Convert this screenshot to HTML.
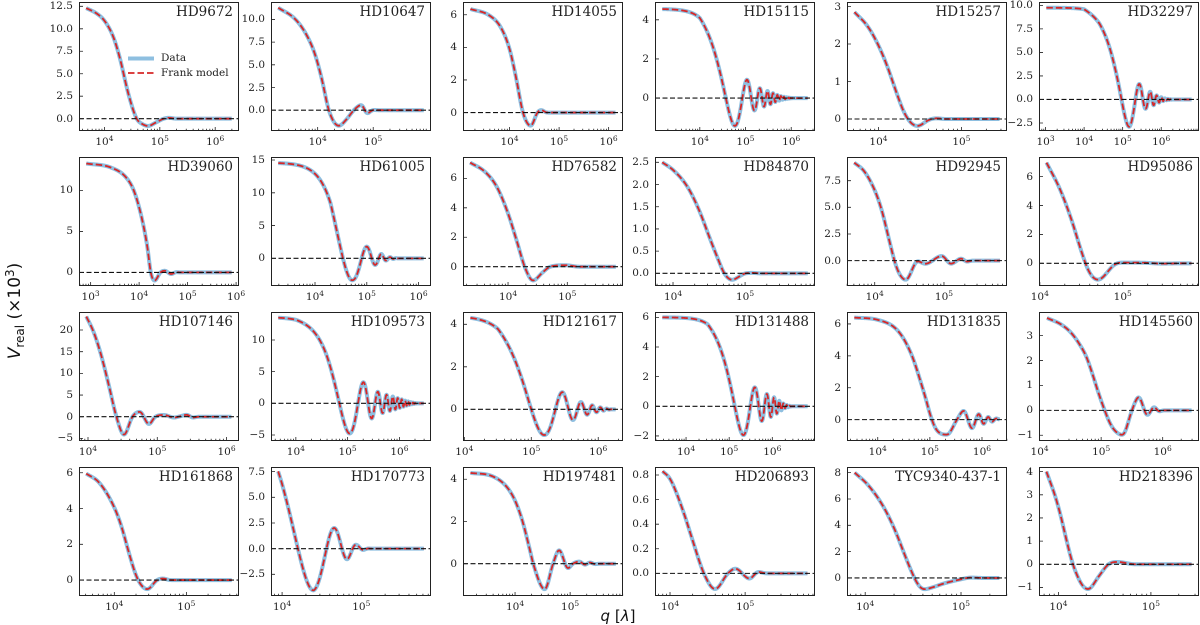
<!DOCTYPE html>
<html>
<head>
<meta charset="utf-8">
<style>
body{margin:0;background:#fff;}
#fig{position:relative;width:1200px;height:625px;overflow:hidden;background:#fff;font-family:"DejaVu Serif","Liberation Serif",serif;color:#222;}
.p{position:absolute;width:160px;height:129px;}
.p svg{position:absolute;left:0;top:0;overflow:visible;}
.box{position:absolute;left:0;top:0;width:160px;height:129px;border:1px solid #222;box-sizing:border-box;}
.tt{position:absolute;right:6px;top:2px;font-size:13.5px;line-height:16px;white-space:nowrap;}
.yl{position:absolute;right:166px;top:calc((var(--y1) - var(--v)) * 129px / (var(--y1) - var(--y0)) - 6px);font-size:10.5px;line-height:12px;white-space:nowrap;}
.xl{position:absolute;top:134px;left:calc((var(--v) - var(--x0)) * 160px / (var(--x1) - var(--x0)));transform:translateX(-50%);font-size:10.5px;line-height:12px;white-space:nowrap;}
.xl sup{font-size:7.5px;position:relative;top:-4.5px;vertical-align:baseline;line-height:0;}
.lg{position:absolute;left:82px;font-size:10.5px;line-height:12px;white-space:nowrap;}
#ylab{position:absolute;left:15px;top:311px;transform:translate(-50%,-50%) rotate(-90deg);font-family:"DejaVu Sans","Liberation Sans",sans-serif;font-size:17px;white-space:nowrap;line-height:20px;color:#111;}
#ylab sub{font-size:12px;position:relative;top:4px;vertical-align:baseline;line-height:0;}
#ylab sup{font-size:12px;position:relative;top:-6px;vertical-align:baseline;line-height:0;}
#xlab{position:absolute;left:618px;top:616px;transform:translate(-50%,-50%);font-family:"DejaVu Sans","Liberation Sans",sans-serif;font-size:15px;white-space:nowrap;line-height:18px;color:#111;}
</style>
</head>
<body>
<div id="fig">

<div class="p" style="left:79px;top:2px;--x0:3.54;--x1:6.43;--y0:-1.37;--y1:12.98"><svg width="160" height="129"></svg><div class="box"></div><div class="tt">HD9672</div><span class="yl" style="--v:0">0.0</span><span class="yl" style="--v:2.5">2.5</span><span class="yl" style="--v:5">5.0</span><span class="yl" style="--v:7.5">7.5</span><span class="yl" style="--v:10">10.0</span><span class="yl" style="--v:12.5">12.5</span><span class="xl" style="--v:4">10<sup>4</sup></span><span class="xl" style="--v:5">10<sup>5</sup></span><span class="xl" style="--v:6">10<sup>6</sup></span><div class="lg" style="top:50px">Data</div><div class="lg" style="top:65px">Frank model</div></div>

<div class="p" style="left:271px;top:2px;--x0:3.16;--x1:6.04;--y0:-2.29;--y1:11.92"><svg width="160" height="129"></svg><div class="box"></div><div class="tt">HD10647</div><span class="yl" style="--v:0">0.0</span><span class="yl" style="--v:2.5">2.5</span><span class="yl" style="--v:5">5.0</span><span class="yl" style="--v:7.5">7.5</span><span class="yl" style="--v:10">10.0</span><span class="xl" style="--v:4">10<sup>4</sup></span><span class="xl" style="--v:5">10<sup>5</sup></span></div>

<div class="p" style="left:463px;top:2px;--x0:3.06;--x1:6.29;--y0:-1.13;--y1:6.78"><svg width="160" height="129"></svg><div class="box"></div><div class="tt">HD14055</div><span class="yl" style="--v:0">0</span><span class="yl" style="--v:2">2</span><span class="yl" style="--v:4">4</span><span class="yl" style="--v:6">6</span><span class="xl" style="--v:4">10<sup>4</sup></span><span class="xl" style="--v:5">10<sup>5</sup></span><span class="xl" style="--v:6">10<sup>6</sup></span></div>

<div class="p" style="left:655px;top:2px;--x0:3.02;--x1:6.52;--y0:-1.68;--y1:4.91"><svg width="160" height="129"></svg><div class="box"></div><div class="tt">HD15115</div><span class="yl" style="--v:0">0</span><span class="yl" style="--v:2">2</span><span class="yl" style="--v:4">4</span><span class="xl" style="--v:4">10<sup>4</sup></span><span class="xl" style="--v:5">10<sup>5</sup></span><span class="xl" style="--v:6">10<sup>6</sup></span></div>

<div class="p" style="left:847px;top:2px;--x0:3.62;--x1:5.55;--y0:-0.32;--y1:3.12"><svg width="160" height="129"></svg><div class="box"></div><div class="tt">HD15257</div><span class="yl" style="--v:0">0</span><span class="yl" style="--v:1">1</span><span class="yl" style="--v:2">2</span><span class="yl" style="--v:3">3</span><span class="xl" style="--v:4">10<sup>4</sup></span><span class="xl" style="--v:5">10<sup>5</sup></span></div>

<div class="p" style="left:1039px;top:2px;--x0:2.83;--x1:6.98;--y0:-3.35;--y1:10.36"><svg width="160" height="129"></svg><div class="box"></div><div class="tt">HD32297</div><span class="yl" style="--v:-2.5">−2.5</span><span class="yl" style="--v:0">0.0</span><span class="yl" style="--v:2.5">2.5</span><span class="yl" style="--v:5">5.0</span><span class="yl" style="--v:7.5">7.5</span><span class="yl" style="--v:10">10.0</span><span class="xl" style="--v:3">10<sup>3</sup></span><span class="xl" style="--v:4">10<sup>4</sup></span><span class="xl" style="--v:5">10<sup>5</sup></span><span class="xl" style="--v:6">10<sup>6</sup></span></div>

<div class="p" style="left:79px;top:157px;--x0:2.76;--x1:6.06;--y0:-1.66;--y1:14.09"><svg width="160" height="129"></svg><div class="box"></div><div class="tt">HD39060</div><span class="yl" style="--v:0">0</span><span class="yl" style="--v:5">5</span><span class="yl" style="--v:10">10</span><span class="xl" style="--v:3">10<sup>3</sup></span><span class="xl" style="--v:4">10<sup>4</sup></span><span class="xl" style="--v:5">10<sup>5</sup></span><span class="xl" style="--v:6">10<sup>6</sup></span></div>

<div class="p" style="left:271px;top:157px;--x0:3.15;--x1:6.24;--y0:-4.22;--y1:15.46"><svg width="160" height="129"></svg><div class="box"></div><div class="tt">HD61005</div><span class="yl" style="--v:0">0</span><span class="yl" style="--v:5">5</span><span class="yl" style="--v:10">10</span><span class="yl" style="--v:15">15</span><span class="xl" style="--v:4">10<sup>4</sup></span><span class="xl" style="--v:5">10<sup>5</sup></span><span class="xl" style="--v:6">10<sup>6</sup></span></div>

<div class="p" style="left:463px;top:157px;--x0:3.24;--x1:5.94;--y0:-1.31;--y1:7.45"><svg width="160" height="129"></svg><div class="box"></div><div class="tt">HD76582</div><span class="yl" style="--v:0">0</span><span class="yl" style="--v:2">2</span><span class="yl" style="--v:4">4</span><span class="yl" style="--v:6">6</span><span class="xl" style="--v:4">10<sup>4</sup></span><span class="xl" style="--v:5">10<sup>5</sup></span></div>

<div class="p" style="left:655px;top:157px;--x0:3.75;--x1:5.97;--y0:-0.285;--y1:2.62"><svg width="160" height="129"></svg><div class="box"></div><div class="tt">HD84870</div><span class="yl" style="--v:0">0.0</span><span class="yl" style="--v:0.5">0.5</span><span class="yl" style="--v:1">1.0</span><span class="yl" style="--v:1.5">1.5</span><span class="yl" style="--v:2">2.0</span><span class="yl" style="--v:2.5">2.5</span><span class="xl" style="--v:4">10<sup>4</sup></span><span class="xl" style="--v:5">10<sup>5</sup></span></div>

<div class="p" style="left:847px;top:157px;--x0:3.60;--x1:5.91;--y0:-2.38;--y1:9.72"><svg width="160" height="129"></svg><div class="box"></div><div class="tt">HD92945</div><span class="yl" style="--v:0">0.0</span><span class="yl" style="--v:2.5">2.5</span><span class="yl" style="--v:5">5.0</span><span class="yl" style="--v:7.5">7.5</span><span class="xl" style="--v:4">10<sup>4</sup></span><span class="xl" style="--v:5">10<sup>5</sup></span></div>

<div class="p" style="left:1039px;top:157px;--x0:3.99;--x1:5.92;--y0:-1.57;--y1:7.36"><svg width="160" height="129"></svg><div class="box"></div><div class="tt">HD95086</div><span class="yl" style="--v:0">0</span><span class="yl" style="--v:2">2</span><span class="yl" style="--v:4">4</span><span class="yl" style="--v:6">6</span><span class="xl" style="--v:4">10<sup>4</sup></span><span class="xl" style="--v:5">10<sup>5</sup></span></div>

<div class="p" style="left:79px;top:312px;--x0:3.87;--x1:6.18;--y0:-5.6;--y1:24.15"><svg width="160" height="129"></svg><div class="box"></div><div class="tt">HD107146</div><span class="yl" style="--v:-5">−5</span><span class="yl" style="--v:0">0</span><span class="yl" style="--v:5">5</span><span class="yl" style="--v:10">10</span><span class="yl" style="--v:15">15</span><span class="yl" style="--v:20">20</span><span class="xl" style="--v:4">10<sup>4</sup></span><span class="xl" style="--v:5">10<sup>5</sup></span><span class="xl" style="--v:6">10<sup>6</sup></span></div>

<div class="p" style="left:271px;top:312px;--x0:3.52;--x1:6.61;--y0:-5.95;--y1:14.42"><svg width="160" height="129"></svg><div class="box"></div><div class="tt">HD109573</div><span class="yl" style="--v:-5">−5</span><span class="yl" style="--v:0">0</span><span class="yl" style="--v:5">5</span><span class="yl" style="--v:10">10</span><span class="xl" style="--v:4">10<sup>4</sup></span><span class="xl" style="--v:5">10<sup>5</sup></span><span class="xl" style="--v:6">10<sup>6</sup></span></div>

<div class="p" style="left:463px;top:312px;--x0:3.98;--x1:6.37;--y0:-1.49;--y1:4.58"><svg width="160" height="129"></svg><div class="box"></div><div class="tt">HD121617</div><span class="yl" style="--v:0">0</span><span class="yl" style="--v:2">2</span><span class="yl" style="--v:4">4</span><span class="xl" style="--v:4">10<sup>4</sup></span><span class="xl" style="--v:5">10<sup>5</sup></span><span class="xl" style="--v:6">10<sup>6</sup></span></div>

<div class="p" style="left:655px;top:312px;--x0:3.28;--x1:6.99;--y0:-2.34;--y1:6.36"><svg width="160" height="129"></svg><div class="box"></div><div class="tt">HD131488</div><span class="yl" style="--v:-2">−2</span><span class="yl" style="--v:0">0</span><span class="yl" style="--v:2">2</span><span class="yl" style="--v:4">4</span><span class="yl" style="--v:6">6</span><span class="xl" style="--v:4">10<sup>4</sup></span><span class="xl" style="--v:5">10<sup>5</sup></span><span class="xl" style="--v:6">10<sup>6</sup></span></div>

<div class="p" style="left:847px;top:312px;--x0:3.41;--x1:6.48;--y0:-1.34;--y1:6.75"><svg width="160" height="129"></svg><div class="box"></div><div class="tt">HD131835</div><span class="yl" style="--v:0">0</span><span class="yl" style="--v:2">2</span><span class="yl" style="--v:4">4</span><span class="yl" style="--v:6">6</span><span class="xl" style="--v:4">10<sup>4</sup></span><span class="xl" style="--v:5">10<sup>5</sup></span><span class="xl" style="--v:6">10<sup>6</sup></span></div>

<div class="p" style="left:1039px;top:312px;--x0:3.99;--x1:6.59;--y0:-1.23;--y1:3.95"><svg width="160" height="129"></svg><div class="box"></div><div class="tt">HD145560</div><span class="yl" style="--v:-1">−1</span><span class="yl" style="--v:0">0</span><span class="yl" style="--v:1">1</span><span class="yl" style="--v:2">2</span><span class="yl" style="--v:3">3</span><span class="xl" style="--v:4">10<sup>4</sup></span><span class="xl" style="--v:5">10<sup>5</sup></span><span class="xl" style="--v:6">10<sup>6</sup></span></div>

<div class="p" style="left:79px;top:467px;--x0:3.51;--x1:5.73;--y0:-0.89;--y1:6.32"><svg width="160" height="129"></svg><div class="box"></div><div class="tt">HD161868</div><span class="yl" style="--v:0">0</span><span class="yl" style="--v:2">2</span><span class="yl" style="--v:4">4</span><span class="yl" style="--v:6">6</span><span class="xl" style="--v:4">10<sup>4</sup></span><span class="xl" style="--v:5">10<sup>5</sup></span></div>

<div class="p" style="left:271px;top:467px;--x0:3.86;--x1:5.88;--y0:-4.61;--y1:7.95"><svg width="160" height="129"></svg><div class="box"></div><div class="tt">HD170773</div><span class="yl" style="--v:-2.5">−2.5</span><span class="yl" style="--v:0">0.0</span><span class="yl" style="--v:2.5">2.5</span><span class="yl" style="--v:5">5.0</span><span class="yl" style="--v:7.5">7.5</span><span class="xl" style="--v:4">10<sup>4</sup></span><span class="xl" style="--v:5">10<sup>5</sup></span></div>

<div class="p" style="left:463px;top:467px;--x0:3.055;--x1:5.96;--y0:-1.53;--y1:4.58"><svg width="160" height="129"></svg><div class="box"></div><div class="tt">HD197481</div><span class="yl" style="--v:0">0</span><span class="yl" style="--v:2">2</span><span class="yl" style="--v:4">4</span><span class="xl" style="--v:4">10<sup>4</sup></span><span class="xl" style="--v:5">10<sup>5</sup></span></div>

<div class="p" style="left:655px;top:467px;--x0:3.80;--x1:5.93;--y0:-0.184;--y1:0.865"><svg width="160" height="129"></svg><div class="box"></div><div class="tt">HD206893</div><span class="yl" style="--v:0">0.0</span><span class="yl" style="--v:0.2">0.2</span><span class="yl" style="--v:0.4">0.4</span><span class="yl" style="--v:0.6">0.6</span><span class="yl" style="--v:0.8">0.8</span><span class="xl" style="--v:4">10<sup>4</sup></span><span class="xl" style="--v:5">10<sup>5</sup></span></div>

<div class="p" style="left:847px;top:467px;--x0:3.81;--x1:5.48;--y0:-1.37;--y1:8.43"><svg width="160" height="129"></svg><div class="box"></div><div class="tt">TYC9340-437-1</div><span class="yl" style="--v:0">0</span><span class="yl" style="--v:2">2</span><span class="yl" style="--v:4">4</span><span class="yl" style="--v:6">6</span><span class="yl" style="--v:8">8</span><span class="xl" style="--v:4">10<sup>4</sup></span><span class="xl" style="--v:5">10<sup>5</sup></span></div>

<div class="p" style="left:1039px;top:467px;--x0:3.79;--x1:5.52;--y0:-1.37;--y1:4.2"><svg width="160" height="129"></svg><div class="box"></div><div class="tt">HD218396</div><span class="yl" style="--v:-1">−1</span><span class="yl" style="--v:0">0</span><span class="yl" style="--v:1">1</span><span class="yl" style="--v:2">2</span><span class="yl" style="--v:3">3</span><span class="yl" style="--v:4">4</span><span class="xl" style="--v:4">10<sup>4</sup></span><span class="xl" style="--v:5">10<sup>5</sup></span></div>

<div id="ylab"><i>V</i><sub>real</sub> (×10<sup>3</sup>)</div>
<div id="xlab"><i>q</i> [<i>λ</i>]</div>
</div>

<script>
function J0(x){
  var ax=Math.abs(x);
  if(ax<8){
    var y=x*x;
    var a1=57568490574.0+y*(-13362590354.0+y*(651619640.7+y*(-11214424.18+y*(77392.33017+y*(-184.9052456)))));
    var a2=57568490411.0+y*(1029532985.0+y*(9494680.718+y*(59272.64853+y*(267.8532712+y*1.0))));
    return a1/a2;
  } else {
    var z=8/ax, y2=z*z, xx=ax-0.785398164;
    var b1=1.0+y2*(-0.1098628627e-2+y2*(0.2734510407e-4+y2*(-0.2073370639e-5+y2*0.2093887211e-6)));
    var b2=-0.1562499995e-1+y2*(0.1430488765e-3+y2*(-0.6911147651e-5+y2*(0.7621095161e-6-y2*0.934935152e-7)));
    return Math.sqrt(0.636619772/ax)*(Math.cos(xx)*b1-z*Math.sin(xx)*b2);
  }
}
function mono(pts){
  var n=pts.length,xs=[],ys=[],d=[],m=[],i;
  for(i=0;i<n;i++){xs.push(pts[i][0]);ys.push(pts[i][1]);}
  for(i=0;i<n-1;i++)d.push((ys[i+1]-ys[i])/(xs[i+1]-xs[i]));
  m[0]=d[0];m[n-1]=d[n-2];
  for(i=1;i<n-1;i++){m[i]=(d[i-1]*d[i]<=0)?0:(d[i-1]+d[i])/2;}
  for(i=0;i<n-1;i++){
    if(d[i]===0){m[i]=0;m[i+1]=0;continue;}
    var a=m[i]/d[i],b=m[i+1]/d[i],s=a*a+b*b;
    if(s>9){var t=3/Math.sqrt(s);m[i]=t*a*d[i];m[i+1]=t*b*d[i];}
  }
  return function(x){
    if(x<=xs[0])return ys[0]+m[0]*(x-xs[0]);
    if(x>=xs[n-1])return ys[n-1];
    var k=0;while(x>xs[k+1])k++;
    var h=xs[k+1]-xs[k],t=(x-xs[k])/h,t2=t*t,t3=t2*t;
    return (2*t3-3*t2+1)*ys[k]+(t3-2*t2+t)*h*m[k]+(-2*t3+3*t2)*ys[k+1]+(t3-t2)*h*m[k+1];
  };
}
function smooth(f,sig){
  if(!sig)return f;
  var K=10,ws=[],tot=0,k;
  for(k=-K;k<=K;k++){var u=k*3/K;var w=Math.exp(-0.5*u*u);ws.push(w);tot+=w;}
  return function(x){var s=0;for(var j=-K;j<=K;j++){s+=ws[j+K]*f(x+j*3*sig/K);}return s/tot;};
}
function lerp(arr,x){
  if(x<=arr[0][0])return arr[0][1];
  for(var i=1;i<arr.length;i++){
    if(x<=arr[i][0]){var a=arr[i-1],b=arr[i];return a[1]+(b[1]-a[1])*(x-a[0])/(b[0]-a[0]);}
  }
  return arr[arr.length-1][1];
}
var C=[
 {p:[[3.67,12.3],[3.86,11.7],[4.0,10.9],[4.16,9.1],[4.28,6.7],[4.43,2.8],[4.58,0],[4.68,-0.58],[4.79,-0.82],[4.92,-0.45],[5.07,0],[5.16,0.1],[5.3,0],[6.30,0]],s:0.02},
 {p:[[3.29,11.29],[3.59,10.07],[3.79,8.4],[3.95,6.2],[4.08,3.3],[4.2,0],[4.38,-1.73],[4.52,-1.0],[4.65,0],[4.79,0.59],[4.89,-0.37],[5.0,0.03],[5.1,0],[5.91,0]],s:0.02},
 {p:[[3.21,6.35],[3.59,5.96],[3.82,5.24],[4.0,3.9],[4.13,2.16],[4.27,0],[4.43,-0.82],[4.56,0],[4.64,0.16],[4.75,0],[6.14,0]],s:0.02},
 {r:[4.56,4.57,[[4.0,1],[4.4,0.85],[4.78,0.77],[5.03,0.69],[5.18,0.56],[5.31,0.51],[5.41,0.48],[5.55,0.41],[5.65,0.3],[5.8,0.15],[5.95,0.05],[6.05,0]]],a:3.18,b:6.36},
 {p:[[3.71,2.85],[3.87,2.47],[4.0,1.96],[4.1,1.44],[4.22,0.685],[4.3,0.215],[4.37,-0.05],[4.42,-0.155],[4.47,-0.19],[4.61,-0.02],[4.70,0.02],[4.8,0],[5.46,0]],s:0.02},
 {r:[9.75,4.97,[[4.0,1],[4.4,0.92],[4.8,0.78],[5.17,0.74],[5.45,0.55],[5.6,0.4],[5.75,0.38],[5.85,0.27],[5.95,0.2],[6.1,0.08],[6.3,0]]],a:3.02,b:6.79},
 {p:[[2.91,13.3],[3.42,12.8],[3.73,11.6],[3.89,10.0],[4.05,6.76],[4.17,3.1],[4.24,0],[4.32,-1.0],[4.44,0],[4.53,0.2],[4.66,-0.2],[4.77,0.03],[4.85,0],[5.91,0]],s:0.01},
 {r:[14.6,4.54,[[4.3,1],[4.5,0.8],[4.74,0.56],[5.0,0.41],[5.17,0.27],[5.28,0.21],[5.38,0.11],[5.45,0.07],[5.55,0.02],[5.6,0]]],a:3.29,b:6.10},
 {p:[[3.36,7.07],[3.61,6.45],[3.81,5.43],[4.0,3.62],[4.16,1.58],[4.28,0],[4.42,-0.95],[4.58,-0.4],[4.71,0],[4.97,0.1],[5.2,0],[5.82,0]],s:0.02},
 {p:[[3.85,2.5],[4.0,2.33],[4.2,1.95],[4.36,1.43],[4.52,0.75],[4.63,0.3],[4.71,0],[4.82,-0.15],[4.92,-0.07],[5.0,0],[5.11,0.01],[5.2,0],[5.87,0]],s:0.02},
 {p:[[3.705,9.19],[3.85,8.37],[4.0,6.6],[4.1,4.76],[4.22,1.64],[4.3,-0.34],[4.37,-1.39],[4.45,-1.81],[4.62,-0.05],[4.73,-0.3],[4.97,0.44],[5.10,-0.3],[5.25,0.2],[5.33,-0.1],[5.41,0],[5.81,0]],s:0.015},
 {p:[[4.08,6.97],[4.24,5.17],[4.38,3.05],[4.5,0.85],[4.58,-0.43],[4.64,-0.97],[4.70,-1.15],[4.91,-0.05],[5.0,0.05],[5.25,0.04],[5.48,-0.02],[5.71,0],[5.83,0]],s:0.02},
 {p:[[3.975,23.1],[4.08,19.6],[4.19,14.2],[4.30,7.3],[4.41,0],[4.52,-4.23],[4.64,0],[4.75,1.15],[4.88,-1.77],[4.97,0],[5.10,0.4],[5.24,-0.2],[5.33,0.1],[5.43,0.45],[5.51,-0.2],[5.6,0],[6.07,0]],s:0.015},
 {r:[13.6,4.84,[[4.0,1],[4.6,0.95],[5.04,0.87],[5.32,0.81],[5.47,0.70],[5.6,0.6],[5.75,0.55],[5.9,0.5],[6.05,0.35],[6.2,0.15],[6.35,0]]],a:3.66,b:6.47},
 {r:[4.4,5.0,[[4.5,1],[4.9,0.85],[5.2,0.68],[5.47,0.61],[5.63,0.45],[5.75,0.35],[5.9,0.25],[6.05,0.12],[6.2,0]]],a:4.09,b:6.26},
 {r:[6.0,5.13,[[4.5,1],[5.0,0.85],[5.35,0.8],[5.62,0.7],[5.8,0.65],[6.0,0.6],[6.1,0.5],[6.3,0.15],[6.45,0]]],a:3.45,b:6.82},
 {p:[[3.55,6.4],[4.01,6.25],[4.40,5.52],[4.65,4.06],[4.85,2.09],[4.93,1.21],[5.0,0.38],[5.1,-0.49],[5.2,-0.86],[5.33,-0.94],[5.52,0],[5.65,0.56],[5.81,-0.56],[5.94,0.38],[6.03,-0.3],[6.12,0.2],[6.19,-0.15],[6.27,0.08],[6.34,0]],s:0.015},
 {p:[[4.12,3.71],[4.35,3.45],[4.51,3.12],[4.65,2.65],[4.76,2.15],[4.86,1.45],[4.95,0.75],[5.05,0.05],[5.15,-0.55],[5.25,-0.88],[5.35,-0.99],[5.50,0],[5.61,0.55],[5.75,-0.21],[5.86,0.15],[5.94,-0.05],[6.01,0],[6.47,0]],s:0.02},
 {p:[[3.61,5.95],[3.79,5.45],[4.0,4.06],[4.1,2.99],[4.2,1.56],[4.3,0.27],[4.38,-0.32],[4.46,-0.52],[4.59,0],[4.68,0.09],[4.77,0],[5.63,0]],s:0.02},
 {r:[12.9,4.20,[[3.9,1],[4.0,0.97],[4.4,0.78],[4.67,0.51],[4.83,0.31],[4.94,0.13],[5.05,0.03],[5.12,0]]],a:3.95,b:5.79},
 {p:[[3.19,4.3],[3.60,4.13],[3.93,3.34],[4.11,2.23],[4.27,0.65],[4.33,0],[4.54,-1.22],[4.69,0],[4.80,0.65],[4.96,-0.22],[5.05,0],[5.17,0.1],[5.27,-0.05],[5.36,0.06],[5.45,-0.02],[5.54,0],[5.83,0]],s:0.015},
 {p:[[3.90,0.83],[4.0,0.77],[4.17,0.515],[4.30,0.27],[4.45,0],[4.60,-0.13],[4.77,0],[4.87,0.04],[5.06,-0.045],[5.17,0.013],[5.28,0],[5.83,0]],s:0.02},
 {p:[[3.89,8.0],[4.03,7.06],[4.19,5.42],[4.31,3.65],[4.41,1.8],[4.47,0.72],[4.52,-0.1],[4.56,-0.6],[4.61,-0.87],[4.70,-0.72],[4.82,-0.42],[5.0,-0.1],[5.1,0.03],[5.22,0.0],[5.40,0]],s:0.02},
 {p:[[3.87,4.0],[3.97,2.88],[4.03,2.01],[4.08,1.16],[4.15,0.08],[4.2,-0.46],[4.26,-0.92],[4.32,-1.08],[4.44,-0.5],[4.54,0],[4.64,0.1],[4.83,0],[5.44,0]],s:0.015}
];
var panels=document.querySelectorAll('.p');
for(var i=0;i<panels.length;i++){
  var el=panels[i], st=el.style;
  var x0=parseFloat(st.getPropertyValue('--x0')),x1=parseFloat(st.getPropertyValue('--x1'));
  var y0=parseFloat(st.getPropertyValue('--y0')),y1=parseFloat(st.getPropertyValue('--y1'));
  var X=function(l){return (l-x0)/(x1-x0)*160;};
  var Y=function(v){return (y1-v)/(y1-y0)*129;};
  var c=C[i],f,a,b;
  if(c.p){f=smooth(mono(c.p),c.s||0);a=c.p[0][0];b=c.p[c.p.length-1][0];}
  else{(function(F,z,env){f=function(l){return F*J0(2.4048*Math.pow(10,l-z))*lerp(env,l);};})(c.r[0],c.r[1],c.r[2]);a=c.a;b=c.b;}
  var N=900,d='';
  for(var k=0;k<=N;k++){
    var l=a+(b-a)*k/N;
    d+=(k?'L':'M')+X(l).toFixed(2)+' '+Y(f(l)).toFixed(2);
  }
  var s='';
  s+='<path d="'+d+'" fill="none" stroke="#8ebfe0" stroke-width="4" stroke-linejoin="round"/>';
  s+='<path d="'+d+'" fill="none" stroke="#d62728" stroke-width="1.8" stroke-dasharray="6.5 3"/>';
  var yz=Y(0).toFixed(2);
  s+='<line x1="0" x2="160" y1="'+yz+'" y2="'+yz+'" stroke="#111" stroke-width="1.1" stroke-dasharray="5 2.5"/>';
  var tk='';
  for(var dec=Math.floor(x0);dec<=Math.ceil(x1);dec++){
    for(var m=2;m<=9;m++){
      var lq=dec+Math.log10(m);
      if(lq>x0&&lq<x1){var px=X(lq).toFixed(2);tk+='M'+px+' 129V126.8';}
    }
  }
  var xls=el.querySelectorAll('.xl');
  for(var j=0;j<xls.length;j++){
    var v=parseFloat(xls[j].style.getPropertyValue('--v'));
    if(v>=x0&&v<=x1){var px2=X(v).toFixed(2);tk+='M'+px2+' 129V125';}
  }
  var yls=el.querySelectorAll('.yl');
  for(var j2=0;j2<yls.length;j2++){
    var vy=parseFloat(yls[j2].style.getPropertyValue('--v'));
    var py=Y(vy).toFixed(2);tk+='M0 '+py+'H4';
  }
  s+='<path d="'+tk+'" stroke="#222" stroke-width="0.8" fill="none"/>';
  if(i===0){
    s+='<line x1="49" x2="75" y1="56.5" y2="56.5" stroke="#8ebfe0" stroke-width="4"/>';
    s+='<line x1="49" x2="75" y1="71" y2="71" stroke="#d62728" stroke-width="1.8" stroke-dasharray="6.5 3"/>';
  }
  el.querySelector('svg').innerHTML=s;
}
</script>
</body>
</html>
